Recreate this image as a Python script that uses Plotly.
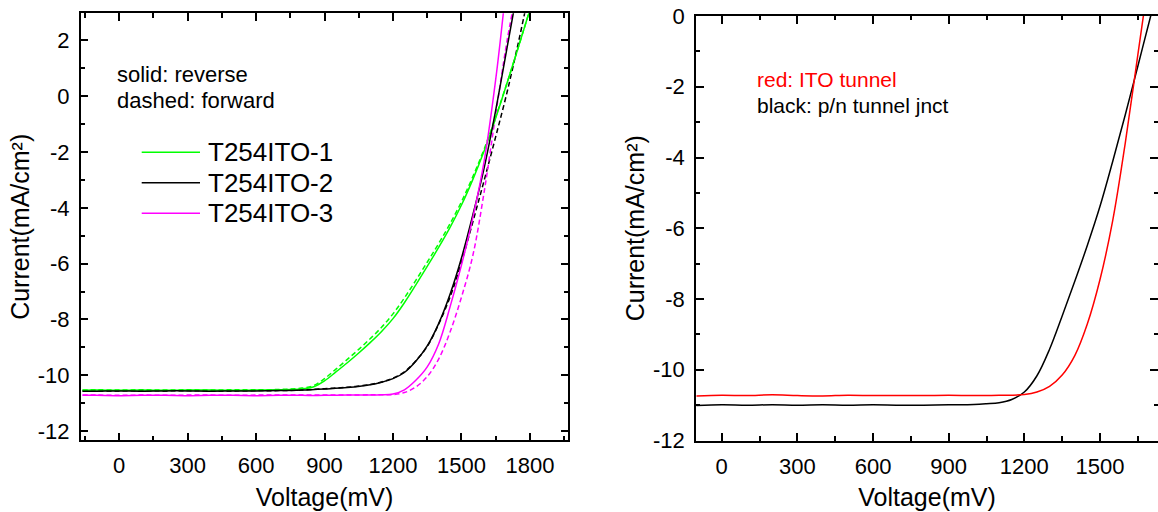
import plotly.graph_objects as go

FONT = "Liberation Sans, Arial, sans-serif"
W, H = 1158, 512

# ---------------- Left panel data (Voltage mV, Current mA/cm2) ----------------
LEGEND_NAMES = ["T254ITO-1", "T254ITO-2", "T254ITO-3"]

V_G_REV = [-160, -100, 0, 100, 200, 300, 400, 500, 600, 700, 750, 800, 850, 900, 950, 1000, 1050,
           1100, 1150, 1200, 1250, 1300, 1350, 1400, 1450, 1500, 1550, 1600, 1650, 1700, 1750, 1800]
J_G_REV = [-10.54, -10.53, -10.54, -10.53, -10.54, -10.53, -10.53, -10.54, -10.53, -10.52, -10.51,
           -10.49, -10.42, -10.20, -9.88, -9.55, -9.20, -8.83, -8.43, -7.97, -7.40, -6.76, -6.10,
           -5.42, -4.70, -3.90, -2.98, -1.95, -0.78, 0.48, 1.78, 3.10]
V_G_FWD = [-160, -100, 0, 100, 200, 300, 400, 500, 600, 700, 750, 800, 850, 900, 950, 1000, 1050,
           1100, 1150, 1200, 1250, 1300, 1350, 1400, 1450, 1500, 1550, 1600, 1650, 1700, 1750, 1800]
J_G_FWD = [-10.53, -10.52, -10.53, -10.52, -10.53, -10.52, -10.53, -10.52, -10.52, -10.51, -10.49,
           -10.46, -10.38, -10.12, -9.78, -9.43, -9.07, -8.69, -8.28, -7.80, -7.23, -6.60, -5.95,
           -5.28, -4.57, -3.78, -2.88, -1.88, -0.74, 0.48, 1.78, 3.10]

V_K_REV = [-160, -100, 0, 100, 200, 300, 400, 500, 600, 700, 800, 900, 1000, 1100, 1150, 1200,
           1250, 1300, 1350, 1400, 1450, 1500, 1550, 1600, 1650, 1700, 1730]
J_K_REV = [-10.57, -10.57, -10.56, -10.57, -10.56, -10.56, -10.57, -10.56, -10.56, -10.55, -10.53,
           -10.49, -10.44, -10.34, -10.25, -10.12, -9.90, -9.50, -8.95, -8.15, -7.10, -5.80, -4.25,
           -2.55, -0.50, 1.75, 3.10]
V_K_FWD = [-160, -100, 0, 100, 200, 300, 400, 500, 600, 700, 800, 900, 1000, 1100, 1150, 1200,
           1250, 1300, 1350, 1400, 1450, 1500, 1550, 1600, 1650, 1700, 1750, 1780]
J_K_FWD = [-10.56, -10.56, -10.56, -10.55, -10.56, -10.55, -10.56, -10.56, -10.55, -10.55, -10.53,
           -10.48, -10.43, -10.33, -10.24, -10.10, -9.88, -9.48, -8.97, -8.17, -7.20, -5.95, -4.50,
           -3.00, -1.45, 0.15, 1.95, 3.10]

V_M_REV = [-160, -100, 0, 100, 200, 300, 400, 500, 600, 700, 800, 900, 1000, 1100, 1150, 1200,
           1250, 1300, 1350, 1400, 1450, 1500, 1550, 1600, 1650, 1685]
J_M_REV = [-10.72, -10.72, -10.73, -10.72, -10.72, -10.73, -10.72, -10.72, -10.73, -10.72, -10.72,
           -10.72, -10.71, -10.71, -10.70, -10.67, -10.52, -10.18, -9.70, -8.88, -7.55, -6.05,
           -4.35, -2.30, 0.60, 3.10]
V_M_FWD = [-160, -100, 0, 100, 200, 300, 400, 500, 600, 700, 800, 900, 1000, 1100, 1150, 1200,
           1250, 1300, 1350, 1400, 1450, 1500, 1550, 1600, 1650, 1700, 1725]
J_M_FWD = [-10.71, -10.71, -10.72, -10.71, -10.72, -10.71, -10.71, -10.72, -10.71, -10.71, -10.71,
           -10.71, -10.71, -10.70, -10.70, -10.69, -10.62, -10.42, -10.05, -9.42, -8.45, -7.20,
           -5.70, -3.40, -0.65, 2.00, 3.10]

# ---------------- Right panel data ----------------
V_RED = [-100, 0, 100, 200, 300, 400, 500, 600, 700, 800, 900, 1000, 1100, 1200, 1250, 1300,
         1350, 1400, 1450, 1500, 1550, 1600, 1650, 1700]
J_RED = [-10.74, -10.72, -10.73, -10.71, -10.73, -10.74, -10.72, -10.73, -10.73, -10.73, -10.72,
         -10.73, -10.72, -10.70, -10.63, -10.47, -10.15, -9.60, -8.70, -7.45, -5.80, -3.60, -1.10, 1.40]
V_BLK = [-100, 0, 100, 200, 300, 400, 500, 600, 700, 800, 900, 1000, 1050, 1100, 1150, 1200, 1250,
         1300, 1350, 1400, 1450, 1500, 1550, 1600, 1650, 1700, 1750]
J_BLK = [-11.01, -10.99, -11.00, -10.99, -11.00, -10.99, -11.00, -10.99, -11.00, -11.00, -10.99,
         -10.98, -10.96, -10.93, -10.84, -10.63, -10.17, -9.42, -8.48, -7.50, -6.48, -5.38, -4.12,
         -2.80, -1.42, -0.03, 1.30]

# ---------------- Ticks / labels ----------------
X_TICKS_L = [0, 300, 600, 900, 1200, 1500, 1800]
Y_TICKS_L = [2, 0, -2, -4, -6, -8, -10, -12]
X_TICKS_R = [0, 300, 600, 900, 1200, 1500]
Y_TICKS_R = [0, -2, -4, -6, -8, -10, -12]
X_TITLE = "Voltage(mV)"
Y_TITLE = "Current(mA/cm²)"
NOTE_L = ["solid: reverse", "dashed: forward"]
NOTE_R = ["red: ITO tunnel", "black: p/n tunnel jnct"]

GREEN, BLACK, MAGENTA, RED = "#00ff00", "#000000", "#ff00ff", "#ff0000"
LW = 1.5
DASH = "5px,3px"

fig = go.Figure()


def add(x, y, color, dash, xa, ya, name):
    fig.add_trace(go.Scatter(x=x, y=y, mode="lines", name=name, showlegend=False,
                             line=dict(color=color, width=LW, dash=dash, shape="spline", smoothing=1.0),
                             xaxis=xa, yaxis=ya))


add(V_G_FWD, J_G_FWD, GREEN, DASH, "x", "y", LEGEND_NAMES[0] + " fwd")
add(V_K_FWD, J_K_FWD, BLACK, DASH, "x", "y", LEGEND_NAMES[1] + " fwd")
add(V_M_FWD, J_M_FWD, MAGENTA, DASH, "x", "y", LEGEND_NAMES[2] + " fwd")
add(V_G_REV, J_G_REV, GREEN, "solid", "x", "y", LEGEND_NAMES[0])
add(V_K_REV, J_K_REV, BLACK, "solid", "x", "y", LEGEND_NAMES[1])
add(V_M_REV, J_M_REV, MAGENTA, "solid", "x", "y", LEGEND_NAMES[2])
add(V_BLK, J_BLK, BLACK, "solid", "x2", "y2", "p/n tunnel jnct")
add(V_RED, J_RED, RED, "solid", "x2", "y2", "ITO tunnel")


def lab(v):
    return str(v)


def axis(**kw):
    d = dict(showline=True, linecolor="black", linewidth=1.5, mirror="ticks",
             ticks="inside", ticklen=8, tickwidth=1.5, tickcolor="black",
             showgrid=False, zeroline=False, automargin=False,
             tickfont=dict(family=FONT, size=22, color="black"),
             ticklabelstandoff=5)
    d.update(kw)
    return d


minor_x = dict(ticks="inside", ticklen=4.5, tickwidth=1.5, tickcolor="black", showgrid=False,
               tickmode="linear", tick0=0, dtick=150)
minor_y = dict(ticks="inside", ticklen=4.5, tickwidth=1.5, tickcolor="black", showgrid=False,
               tickmode="linear", tick0=0, dtick=1)
title_font = dict(family=FONT, size=25, color="black")

fig.update_layout(
    width=W, height=H, margin=dict(l=0, r=0, t=0, b=0),
    paper_bgcolor="white", plot_bgcolor="white", showlegend=False,
    xaxis=axis(domain=[80.7 / W, 568.3 / W], range=[-168, 1968], anchor="y",
               tickmode="array", tickvals=X_TICKS_L, ticktext=[lab(v) for v in X_TICKS_L],
               minor=minor_x, title=dict(text=X_TITLE, font=title_font, standoff=11)),
    yaxis=axis(domain=[(H - 440.3) / H, (H - 13.3) / H], range=[-12.33, 2.97], anchor="x",
               tickmode="array", tickvals=Y_TICKS_L, ticktext=[lab(v) for v in Y_TICKS_L],
               minor=minor_y, title=dict(text=Y_TITLE, font=title_font, standoff=1)),
    xaxis2=axis(domain=[696 / W, 1.0], range=[-102, 1730], anchor="y2",
                tickmode="array", tickvals=X_TICKS_R, ticktext=[lab(v) for v in X_TICKS_R],
                minor=minor_x, title=dict(text=X_TITLE, font=title_font, standoff=11)),
    yaxis2=axis(domain=[(H - 440.5) / H, (H - 16) / H], range=[-12, 0], anchor="x2",
                tickmode="array", tickvals=Y_TICKS_R, ticktext=[lab(v) for v in Y_TICKS_R],
                minor=minor_y, title=dict(text=Y_TITLE, font=title_font, standoff=1)),
)

# text notes
for i, t in enumerate(NOTE_L):
    fig.add_annotation(text=t, xref="paper", yref="paper", x=116.7 / W, y=(H - (74 + 26 * i)) / H,
                       xanchor="left", yanchor="middle", showarrow=False, borderpad=0, borderwidth=0,
                       font=dict(family=FONT, size=22, color="black"))
for i, (t, c) in enumerate(zip(NOTE_R, [RED, BLACK])):
    fig.add_annotation(text=t, xref="paper", yref="paper", x=756.7 / W, y=(H - (79 + 26 * i)) / H,
                       xanchor="left", yanchor="middle", showarrow=False, borderpad=0, borderwidth=0,
                       font=dict(family=FONT, size=21, color=c))

# legend (solid lines)
for i, (name, c) in enumerate(zip(LEGEND_NAMES, [GREEN, BLACK, MAGENTA])):
    yy = (H - (152.3 + 30.5 * i)) / H
    fig.add_shape(type="line", xref="paper", yref="paper", x0=141.7 / W, x1=200 / W, y0=yy, y1=yy,
                  line=dict(color=c, width=LW))
    fig.add_annotation(text=name, xref="paper", yref="paper", x=207.7 / W, y=yy,
                       xanchor="left", yanchor="middle", showarrow=False, borderpad=0, borderwidth=0,
                       font=dict(family=FONT, size=26, color="black"))

fig.write_html("out.html")
